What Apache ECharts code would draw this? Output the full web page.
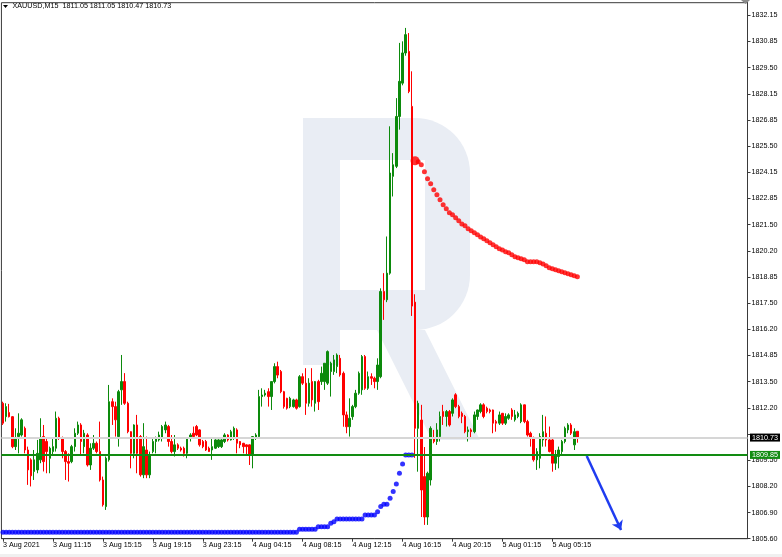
<!DOCTYPE html>
<html><head><meta charset="utf-8">
<script src="https://cdn.jsdelivr.net/npm/echarts@6/dist/echarts.min.js"></script>
<style>html,body{margin:0;padding:0;background:#fff;}#c{width:782px;height:557px;}</style>
</head><body><div id="c"></div>
<script>
const FONT = '"Liberation Sans", Arial, sans-serif';
const titleText = 'XAUUSD,M15  1811.05 1811.05 1810.47 1810.73';
const timeLabels = ['3 Aug 2021','3 Aug 11:15','3 Aug 15:15','3 Aug 19:15','3 Aug 23:15','4 Aug 04:15','4 Aug 08:15','4 Aug 12:15','4 Aug 16:15','4 Aug 20:15','5 Aug 01:15','5 Aug 05:15'];
const labelStep = 16;
const slotCount = 239;
const priceLabels = ['1805.60','1806.90','1808.20','1809.50','1812.20','1813.50','1814.85','1816.20','1817.50','1818.85','1820.20','1821.50','1822.85','1824.15','1825.50','1826.85','1828.15','1829.50','1830.85','1832.15'];
const priceMin = 1805.60, priceMax = 1832.79, priceStep = 1.3275;
const bidPrice = 1810.73, levelPrice = 1809.85;
const arrowStart = [187, 1809.80], arrowEnd = [198, 1806.04];

// [open, close, low, high]
const aug3 = [
[1812.47,1811.46,1811.37,1812.55],[1811.79,1812.30,1811.54,1812.47],[1812.00,1811.79,1811.75,1812.44],[1811.79,1810.27,1810.19,1811.82],
[1810.27,1810.70,1810.10,1811.20],[1810.78,1810.95,1809.93,1811.96],[1810.86,1811.63,1810.78,1811.71],[1811.20,1810.10,1809.93,1811.29],
[1810.10,1809.09,1808.33,1810.27],[1809.60,1808.79,1808.25,1809.68],[1809.01,1809.60,1808.58,1810.10],[1809.09,1809.93,1808.92,1810.61],
[1809.60,1810.70,1809.43,1811.71],[1810.78,1809.51,1809.01,1811.37],[1810.53,1810.02,1808.92,1810.70],[1809.68,1810.19,1808.92,1810.27],
[1810.02,1810.27,1809.85,1810.70],[1810.19,1811.71,1810.02,1812.05],[1811.71,1810.70,1810.61,1811.79],[1810.70,1810.02,1809.68,1810.78],
[1810.02,1809.51,1808.58,1810.10],[1809.51,1809.43,1808.50,1809.93],[1809.51,1810.27,1809.43,1810.36],[1810.27,1810.95,1810.02,1811.20],
[1810.95,1811.37,1810.86,1811.54],[1811.37,1810.53,1809.85,1811.46],[1810.27,1810.95,1809.93,1811.12],[1810.86,1809.34,1809.26,1810.95],
[1809.34,1810.19,1809.09,1810.44],[1810.19,1810.44,1810.10,1810.86],[1810.44,1810.02,1809.93,1810.53],[1810.02,1808.58,1808.50,1811.54],
[1808.58,1807.32,1807.23,1808.75],[1807.23,1809.68,1807.06,1809.77],[1809.60,1812.55,1809.51,1813.40],[1812.55,1812.30,1811.37,1812.72],
[1812.30,1811.63,1810.78,1812.55],[1810.78,1813.06,1810.27,1813.15],[1813.15,1813.57,1812.39,1814.92],[1813.57,1812.47,1812.39,1814.00],
[1812.47,1811.03,1810.95,1812.55],[1811.03,1809.93,1809.17,1811.05],[1809.93,1811.37,1809.68,1811.40],[1811.37,1809.93,1808.92,1811.88],
[1810.78,1808.84,1808.75,1810.86],[1808.84,1810.27,1808.67,1811.46],[1810.10,1808.84,1808.67,1810.78],[1808.84,1809.85,1808.67,1810.02],
[1810.02,1810.53,1809.93,1810.70],[1810.53,1810.70,1809.93,1810.78],[1810.61,1810.86,1810.53,1811.03],[1810.70,1811.29,1810.53,1811.37],
[1811.12,1811.37,1810.95,1811.54],[1811.29,1810.53,1810.27,1811.37],[1810.53,1810.02,1809.93,1810.86],[1810.02,1810.36,1809.77,1810.86],
[1810.36,1810.19,1810.10,1810.44],[1810.19,1810.10,1810.02,1810.27],[1810.19,1809.93,1809.77,1810.27],[1809.93,1810.70,1809.68,1810.70],
[1810.70,1810.86,1810.53,1810.95],[1810.95,1810.78,1810.70,1811.29],[1811.29,1810.86,1810.80,1811.37],[1811.12,1810.36,1810.27,1811.15],
[1810.53,1810.27,1810.19,1810.61],[1810.53,1810.10,1810.05,1810.61],[1810.19,1810.02,1810.00,1810.27]
];
const aug4 = [
[1810.10,1810.27,1809.60,1810.70],[1810.19,1810.61,1810.15,1810.65],[1810.27,1810.61,1810.20,1810.65],[1810.27,1810.61,1810.20,1810.65],
[1810.53,1810.86,1810.45,1810.95],[1810.86,1810.61,1810.53,1810.90],[1810.61,1811.03,1810.58,1811.12],[1810.70,1811.20,1810.61,1811.29],
[1811.12,1810.44,1809.93,1811.20],[1810.53,1810.36,1810.19,1810.55],[1810.44,1810.27,1809.93,1810.46],[1810.36,1810.27,1809.85,1810.38],
[1810.36,1809.85,1809.34,1810.38],[1809.85,1810.78,1809.17,1810.80],[1810.70,1810.86,1810.61,1810.95],[1810.78,1812.81,1810.70,1813.15],
[1812.81,1812.89,1812.30,1813.23],[1812.89,1812.98,1812.81,1813.15],[1813.06,1812.81,1812.30,1813.23],[1812.81,1813.57,1812.13,1813.57],
[1813.57,1814.33,1813.48,1814.50],[1814.33,1813.90,1813.74,1814.58],[1814.08,1813.06,1812.98,1814.16],[1813.06,1812.30,1812.20,1813.10],
[1812.72,1812.22,1812.15,1812.75],[1812.30,1812.72,1812.22,1812.80],[1812.30,1812.64,1812.25,1812.70],[1812.64,1812.22,1812.15,1812.70],
[1812.30,1813.82,1812.25,1813.90],[1813.82,1813.49,1813.40,1813.99],[1813.49,1812.47,1811.88,1814.25],[1812.47,1813.49,1812.30,1813.74],
[1813.57,1812.64,1812.30,1814.25],[1812.47,1813.57,1812.05,1813.60],[1813.57,1812.55,1812.13,1813.66],[1813.57,1813.99,1813.40,1814.33],
[1813.57,1814.50,1813.15,1814.50],[1813.49,1815.09,1813.40,1815.15],[1814.08,1814.50,1812.81,1814.58],[1814.08,1814.67,1813.91,1814.92],
[1814.33,1814.92,1814.00,1815.00],[1814.75,1813.91,1813.82,1814.92],[1813.99,1811.88,1811.28,1814.08],[1811.88,1811.28,1810.95,1812.05],
[1811.28,1811.71,1810.78,1812.72],[1811.79,1812.30,1811.63,1812.39],[1812.30,1812.98,1812.22,1813.15],[1812.98,1813.99,1812.90,1814.08],
[1813.15,1814.84,1812.90,1814.92],[1814.84,1813.23,1813.15,1814.92],[1813.23,1813.82,1813.15,1814.08],[1813.82,1813.74,1813.40,1813.99],
[1813.74,1813.57,1813.23,1813.82],[1813.57,1814.41,1813.15,1814.75],[1813.82,1818.14,1813.74,1818.30],[1818.14,1817.72,1816.70,1819.07],
[1817.72,1819.07,1817.60,1820.93],[1819.07,1824.15,1818.99,1826.52],[1823.98,1824.57,1822.96,1825.16],[1824.49,1827.02,1824.40,1827.95],
[1827.02,1828.80,1826.35,1830.75],[1828.71,1830.24,1828.60,1830.83],[1830.24,1831.17,1830.10,1831.51],[1830.32,1828.29,1828.20,1831.25],
[1827.53,1817.40,1816.90,1829.31],[1817.60,1811.20,1809.70,1818.00],[1811.20,1812.47,1809.00,1812.60],[1811.62,1808.07,1806.70,1812.39],
[1808.75,1806.70,1806.30,1810.25],[1806.70,1808.92,1806.30,1809.00],[1808.58,1811.20,1808.30,1811.30],[1810.70,1810.53,1810.44,1811.12],
[1810.53,1811.12,1810.36,1811.46],[1810.78,1811.80,1810.53,1812.05],[1812.05,1811.80,1811.37,1812.39],[1811.80,1812.05,1811.29,1812.13],
[1812.05,1811.37,1811.29,1812.13],[1811.96,1812.64,1811.80,1812.72],[1812.90,1812.30,1812.22,1812.98],[1812.30,1811.80,1811.71,1812.39],
[1811.96,1811.80,1811.46,1812.05],[1811.80,1811.03,1810.95,1811.88],[1811.03,1811.12,1810.53,1811.29],[1811.12,1811.03,1810.70,1811.20],
[1811.03,1811.88,1810.95,1812.05],[1811.80,1812.13,1811.63,1812.15],[1812.05,1812.39,1811.96,1812.47],[1812.39,1811.80,1811.71,1812.47],
[1812.22,1812.05,1811.96,1812.30],[1812.13,1812.05,1811.96,1812.20],[1812.13,1811.46,1810.95,1812.15],[1811.54,1811.46,1811.03,1811.63]
];
const aug5 = [
[1811.46,1811.88,1811.37,1812.05],[1811.96,1811.46,1811.37,1811.98],[1811.46,1811.80,1811.37,1811.96],[1811.71,1811.88,1811.63,1811.96],
[1812.13,1811.80,1811.63,1812.22],[1811.63,1811.88,1811.54,1812.13],[1811.80,1811.96,1811.71,1812.05],[1811.54,1812.39,1811.46,1812.47],
[1812.39,1811.54,1811.46,1812.40],[1811.54,1810.86,1810.78,1811.63],[1810.95,1810.70,1810.27,1811.03],[1810.70,1809.60,1809.51,1810.78],
[1809.60,1810.02,1809.09,1810.19],[1809.68,1810.78,1809.17,1810.95],[1810.61,1811.03,1810.27,1811.88],[1810.95,1810.61,1810.27,1811.80],
[1810.61,1810.02,1809.98,1811.29],[1810.61,1809.43,1809.00,1810.70],[1809.43,1809.85,1809.09,1810.10],[1809.77,1810.10,1809.17,1810.27],
[1810.02,1810.53,1809.85,1810.61],[1810.53,1811.20,1810.44,1811.29],[1811.12,1811.37,1810.95,1811.46],[1811.37,1810.95,1810.86,1811.46],
[1810.36,1811.03,1810.10,1811.20],[1811.05,1810.73,1810.47,1811.05]
];
// lower trailing dots (bars 0..131)
const blueDots = [
1805.93,1805.93,1805.93,1805.93,1805.93,1805.93,1805.93,1805.93,1805.93,1805.93,
1805.93,1805.93,1805.93,1805.93,1805.93,1805.93,1805.93,1805.93,1805.93,1805.93,
1805.93,1805.93,1805.93,1805.93,1805.93,1805.93,1805.93,1805.93,1805.93,1805.93,
1805.93,1805.93,1805.93,1805.93,1805.93,1805.93,1805.93,1805.93,1805.93,1805.93,
1805.93,1805.93,1805.93,1805.93,1805.93,1805.93,1805.93,1805.93,1805.93,1805.93,
1805.93,1805.93,1805.93,1805.93,1805.93,1805.93,1805.93,1805.93,1805.93,1805.93,
1805.93,1805.93,1805.93,1805.93,1805.93,1805.93,1805.93,1805.93,1805.93,1805.93,
1805.93,1805.93,1805.93,1805.93,1805.93,1805.93,1805.93,1805.93,1805.93,1805.93,
1805.93,1805.93,1805.93,1805.93,1805.93,1805.93,1805.93,1805.93,1805.93,1805.93,
1805.93,1805.93,1805.93,1805.93,1805.93,1806.08,1806.08,1806.08,1806.08,1806.08,
1806.08,1806.21,1806.21,1806.21,1806.21,1806.38,1806.46,1806.60,1806.60,1806.60,
1806.60,1806.60,1806.60,1806.60,1806.60,1806.60,1806.80,1806.80,1806.80,1806.80,
1806.97,1807.23,1807.35,1807.35,1807.65,1807.99,1808.38,1808.92,1809.39,1809.85,
1809.85,1809.85
];
// upper trailing dots (bars 132..184)
const redStart = 132;
const redDots = [
1824.77,1824.72,1824.57,1824.21,1823.86,1823.61,1823.30,1823.05,1822.79,1822.54,
1822.34,1822.13,1822.03,1821.88,1821.73,1821.57,1821.47,1821.32,1821.22,1821.12,
1821.02,1820.91,1820.81,1820.71,1820.61,1820.51,1820.41,1820.31,1820.25,1820.15,
1820.10,1820.00,1819.90,1819.85,1819.80,1819.75,1819.65,1819.65,1819.65,1819.65,
1819.60,1819.54,1819.44,1819.34,1819.29,1819.24,1819.19,1819.14,1819.09,1819.04,
1818.99,1818.94,1818.89
];

const UP = '#0c8a0c', DOWN = '#ff0000', AXIS = '#3a3a3a';
const candles = aug3.concat(aug4, aug5);
const slots = [];
for (let i = 0; i < slotCount; i++) slots.push(String(i));
const isLabelSlot = i => i % labelStep === 0 && (i / labelStep) < timeLabels.length;

const chart = echarts.init(document.getElementById('c'));
chart.setOption({
  animation: false,
  backgroundColor: '#ffffff',
  textStyle: {fontFamily: FONT},
  title: {text: titleText, left: 12.5, top: 2.5, padding: 0, textStyle: {fontSize: 7.2, fontWeight: 'normal', color: '#000', fontFamily: FONT}},
  grid: {left: 0.5, right: 34.5, top: 2.7, bottom: 18.3, show: true, borderColor: AXIS, borderWidth: 1},
  xAxis: {
    type: 'category', data: slots, boundaryGap: true,
    axisLine: {show: true, lineStyle: {color: AXIS}},
    axisTick: {show: true, interval: (i) => isLabelSlot(i), alignWithLabel: true, length: 3, lineStyle: {color: AXIS}},
    axisLabel: {show: true, interval: (i) => isLabelSlot(i), formatter: (v, i) => timeLabels[i / labelStep] || '',
      align: 'left', margin: 3, fontSize: 7.2, color: '#000', fontFamily: FONT},
    splitLine: {show: false}
  },
  yAxis: {
    type: 'value', position: 'right', min: priceMin, max: priceMax, interval: priceStep,
    axisLine: {show: true, lineStyle: {color: AXIS}},
    axisTick: {show: true, length: 3, lineStyle: {color: AXIS}},
    axisLabel: {margin: 4, fontSize: 7.2, color: '#000', fontFamily: FONT, showMaxLabel: false,
      formatter: (v) => { const m = priceLabels.find(s => Math.abs(parseFloat(s) - v) < 0.1); return m || ''; }},
    splitLine: {show: false}
  },
  graphic: [
    {type: 'rect', z: 0, silent: true, shape: {x: 303, y: 118, width: 167, height: 212, r: [0, 55, 55, 0]}, style: {fill: '#e9edf4'}},
    {type: 'rect', z: 0, silent: true, shape: {x: 340, y: 160, width: 85, height: 130}, style: {fill: '#ffffff'}},
    {type: 'rect', z: 0, silent: true, shape: {x: 303, y: 118, width: 37, height: 247}, style: {fill: '#e9edf4'}},
    {type: 'polygon', z: 0, silent: true, shape: {points: [[377, 330], [425, 330], [480, 440], [432, 440]]}, style: {fill: '#e9edf4'}},
    {type: 'polygon', silent: true, shape: {points: [[3, 5], [8, 5], [5.5, 8]]}, style: {fill: '#000'}},
    {type: 'polygon', silent: true, shape: {points: [[741, 0], [750, 0], [745.5, 4]]}, style: {fill: '#8a8a8a'}},
    {type: 'rect', silent: true, shape: {x: 0, y: 554, width: 782, height: 3}, style: {fill: '#f0f0f0'}}
  ],
  series: [
    {
      type: 'candlestick', data: candles, barWidth: 2, z: 3,
      itemStyle: {color: UP, color0: DOWN, borderColor: UP, borderColor0: DOWN, borderWidth: 1},
      markLine: {
        symbol: 'none', silent: true, animation: false,
        data: [
          {yAxis: bidPrice, lineStyle: {color: '#d6d6d6', width: 2, type: 'solid'},
            label: {show: true, position: 'end', distance: 2.5, formatter: bidPrice.toFixed(2), backgroundColor: '#000', color: '#fff', padding: [1, 2, 0, 2], fontSize: 7.2, fontFamily: FONT}},
          {yAxis: levelPrice, lineStyle: {color: '#128c12', width: 2, type: 'solid'},
            label: {show: true, position: 'end', distance: 2.5, formatter: levelPrice.toFixed(2), backgroundColor: '#128c12', color: '#fff', padding: [1, 2, 0, 2], fontSize: 7.2, fontFamily: FONT}}
        ]
      }
    },
    {
      type: 'scatter', data: blueDots.map((v, i) => [i, v]), symbolSize: 5, z: 4,
      itemStyle: {color: '#0000ff'}
    },
    {
      type: 'scatter', data: redDots.map((v, i) => ({value: [redStart + i, v], symbolSize: i === 0 ? 9 : 5})), z: 4,
      itemStyle: {color: '#ff0000'},
      markLine: {
        silent: true, animation: false, symbol: ['none', 'arrow'], symbolSize: 9,
        lineStyle: {color: '#1f3cf0', width: 2.5, type: 'solid'},
        label: {show: false},
        data: [[{coord: arrowStart}, {coord: arrowEnd}]]
      }
    }
  ]
});
</script>
</body></html>
